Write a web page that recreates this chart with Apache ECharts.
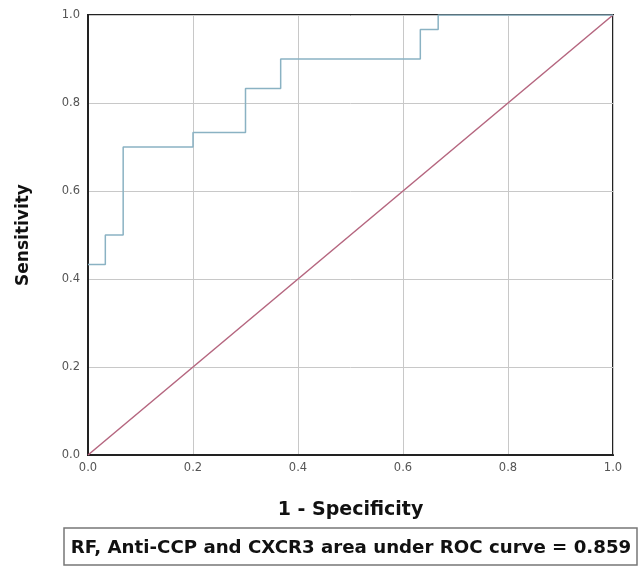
<!DOCTYPE html>
<html>
<head>
<meta charset="utf-8">
<script src="https://cdn.jsdelivr.net/npm/echarts@6/dist/echarts.min.js"></script>
<style>html,body{margin:0;padding:0;background:#fff;}#c{width:642px;height:569px;}</style>
</head>
<body>
<div id="c"></div>
<script>
var rocX = [0, 0.033, 0.033, 0.067, 0.067, 0.2, 0.2, 0.3, 0.3, 0.367, 0.367, 0.633, 0.633, 0.667, 0.667, 1];
var rocY = [0.433, 0.433, 0.5, 0.5, 0.7, 0.7, 0.733, 0.733, 0.833, 0.833, 0.9, 0.9, 0.967, 0.967, 1, 1];
var refX = [0, 1];
var refY = [0, 1];
var ticks = [0, 0.2, 0.4, 0.6, 0.8, 1.0];
var xTitle = '1 - Specificity';
var yTitle = 'Sensitivity';
var caption = 'RF, Anti-CCP and CXCR3 area under ROC curve = 0.859';

var chart = echarts.init(document.getElementById('c'));
function pairs(xs, ys){ return xs.map(function(v,i){ return [v, ys[i]]; }); }
var fontFam = '"DejaVu Sans", Verdana, sans-serif';
chart.setOption({
  animation: false,
  grid: {left: 88, top: 15, width: 525, height: 440, show: true, borderColor: '#222', borderWidth: 2, backgroundColor: '#fff'},
  xAxis: {
    type: 'value', min: 0, max: 1, interval: 0.2,
    name: xTitle, nameLocation: 'middle', nameGap: 46,
    nameTextStyle: {fontSize: 19, fontWeight: 'bold', color: '#111', fontFamily: fontFam},
    axisLine: {show: true, lineStyle: {color: '#222', width: 2}},
    axisTick: {show: false},
    axisLabel: {color: '#555', fontSize: 11.5, margin: 7, fontFamily: fontFam, formatter: function(v){ return v.toFixed(1); }},
    splitLine: {show: true, lineStyle: {color: '#c8c8c8', width: 1}}
  },
  yAxis: {
    type: 'value', min: 0, max: 1, interval: 0.2,
    name: yTitle, nameLocation: 'middle', nameGap: 56,
    nameTextStyle: {fontSize: 17, fontWeight: 'bold', color: '#111', fontFamily: fontFam},
    axisLine: {show: true, lineStyle: {color: '#222', width: 2}},
    axisTick: {show: false},
    axisLabel: {color: '#555', fontSize: 11.5, margin: 8, fontFamily: fontFam, formatter: function(v){ return v.toFixed(1); }},
    splitLine: {show: true, lineStyle: {color: '#c8c8c8', width: 1}}
  },
  series: [
    {type: 'line', data: pairs(refX, refY), symbol: 'none', lineStyle: {color: '#b5667f', width: 1.5}, z: 3},
    {type: 'line', data: pairs(rocX, rocY), symbol: 'none', lineStyle: {color: '#8ab2c3', width: 1.5}, z: 4}
  ],
  graphic: [
    {type: 'rect', shape: {x: 64, y: 528, width: 573, height: 37}, style: {fill: '#fff', stroke: '#777', lineWidth: 1.5}},
    {type: 'text', style: {text: caption, x: 351, y: 548, textAlign: 'center', textVerticalAlign: 'middle', fill: '#111', font: 'bold 18.2px ' + fontFam}}
  ]
});
</script>
</body>
</html>
